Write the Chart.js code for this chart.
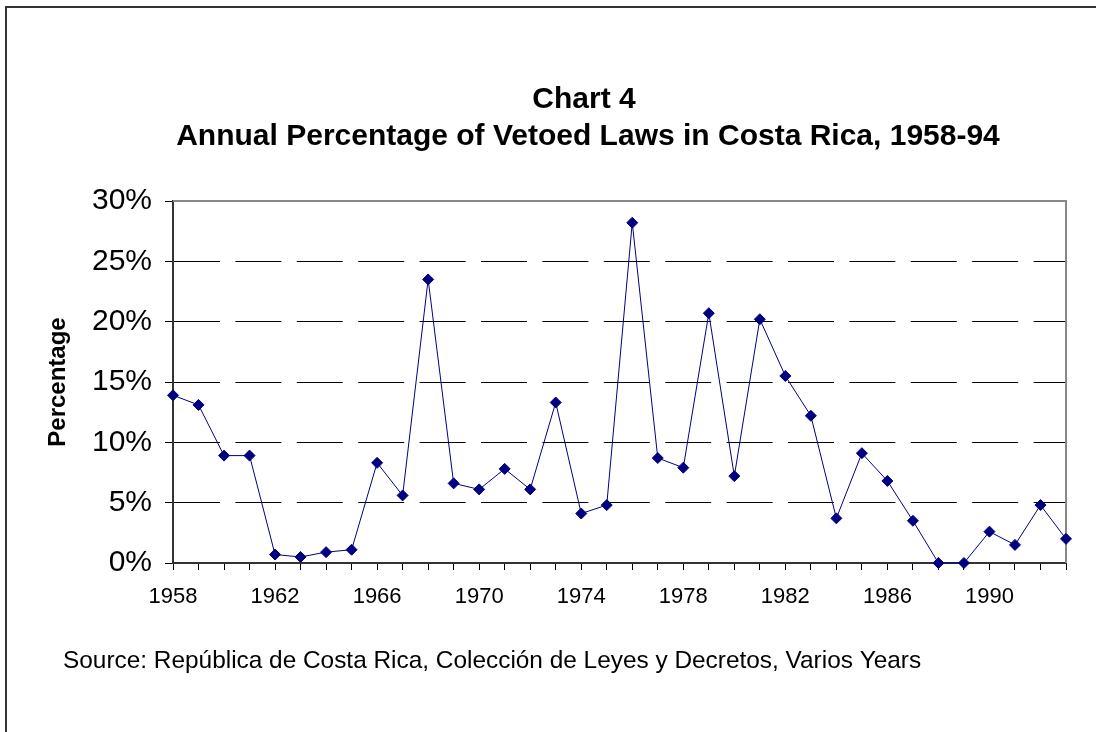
<!DOCTYPE html>
<html>
<head>
<meta charset="utf-8">
<title>Chart 4</title>
<script src="https://cdn.jsdelivr.net/npm/chart.js@4"></script>
<style>
    html, body { margin: 0; padding: 0; background: #fff; }
    #moldura { position: relative; width: 1096px; height: 732px; overflow: hidden; }
    #borda {
        position: absolute; left: 5px; top: 6px; width: 1200px; height: 800px;
        border-top: 2px solid #333; border-left: 2px solid #333;
    }
    #grafico { position: absolute; left: 0; top: 0; }
</style>
</head>
<body>
<div id="moldura">
    <div id="borda"></div>
    <canvas id="grafico" width="1096" height="732"></canvas>
</div>
<script>
const years = [
    '1958', '1959', '1960', '1961', '1962', '1963', '1964', '1965', '1966',
    '1967', '1968', '1969', '1970', '1971', '1972', '1973', '1974', '1975',
    '1976', '1977', '1978', '1979', '1980', '1981', '1982', '1983', '1984',
    '1985', '1986', '1987', '1988', '1989', '1990', '1991', '1992', '1993',
];

// percentage of vetoed laws per year
const vetoedPct = [
    13.9, 13.1, 8.9, 8.9, 0.7, 0.5, 0.9, 1.1, 8.3,
    5.6, 23.5, 6.6, 6.1, 7.8, 6.1, 13.3, 4.1, 4.8,
    28.2, 8.7, 7.9, 20.7, 7.2, 20.2, 15.5, 12.2, 3.7,
    9.1, 6.8, 3.5, 0, 0, 2.6, 1.5, 4.8, 2.0,
];

const labeledYears = ['1958', '1962', '1966', '1970', '1974', '1978', '1982', '1986', '1990'];

const titleLines = ['Chart 4', 'Annual Percentage of Vetoed Laws in Costa Rica, 1958-94'];
const sourceNote = 'Source: República de Costa Rica, Colección de Leyes y Decretos, Varios Years';

const FONT = '"Liberation Sans", Arial, sans-serif';
const NAVY = '#000080';

// title, source line and grey plot frame (top/right)
const extras = {
    id: 'extras',
    beforeDatasetsDraw(chart) {
        const { ctx, chartArea } = chart;
        ctx.save();
        ctx.strokeStyle = '#888';
        ctx.lineWidth = 2;
        ctx.beginPath();
        ctx.moveTo(chartArea.left, chartArea.top);
        ctx.lineTo(chartArea.right, chartArea.top);
        ctx.lineTo(chartArea.right, chartArea.bottom);
        ctx.stroke();
        ctx.restore();
    },
    afterDraw(chart) {
        const { ctx } = chart;
        ctx.save();
        ctx.fillStyle = '#000';
        ctx.textAlign = 'center';
        ctx.textBaseline = 'middle';
        ctx.font = `bold 30px ${FONT}`;
        ctx.fillText(titleLines[0], 584, 100);
        ctx.fillText(titleLines[1], 588, 137);
        ctx.textAlign = 'left';
        ctx.font = `24.4px ${FONT}`;
        ctx.fillText(sourceNote, 63, 661);
        ctx.restore();
    },
};

new Chart(document.getElementById('grafico'), {
    type: 'line',
    data: {
        labels: years,
        datasets: [{
            data: vetoedPct,
            borderColor: NAVY,
            borderWidth: 1,
            backgroundColor: NAVY,
            pointStyle: 'rectRot',
            pointRadius: 5.5,
            pointBackgroundColor: NAVY,
            pointBorderColor: NAVY,
            pointBorderWidth: 1,
            tension: 0,
            fill: false,
            clip: false,
        }],
    },
    options: {
        responsive: false,
        devicePixelRatio: 1,
        animation: false,
        layout: { padding: { left: 0, right: 30, top: 201, bottom: 0 } },
        plugins: {
            legend: { display: false },
            tooltip: { enabled: false },
        },
        scales: {
            x: {
                offset: false,
                afterFit(scale) { scale.height = 169; },
                grid: {
                    drawOnChartArea: false,
                    drawTicks: true,
                    tickLength: 7,
                    tickColor: '#000',
                    tickWidth: 1,
                },
                border: { color: '#333', width: 2 },
                ticks: {
                    autoSkip: false,
                    maxRotation: 0,
                    padding: 14,
                    color: '#000',
                    font: { family: FONT, size: 22 },
                    callback(value, index) {
                        const year = years[index];
                        return labeledYears.includes(year) ? year : '';
                    },
                },
            },
            y: {
                min: 0,
                max: 30,
                afterFit(scale) { scale.width = 173; },
                grid: {
                    color: '#000',
                    lineWidth: 1,
                    tickLength: 8,
                    tickColor: '#000',
                    tickBorderDash: [],
                },
                border: { color: '#333', width: 2, dash: [46, 15.4] },
                ticks: {
                    stepSize: 5,
                    padding: 13,
                    color: '#000',
                    font: { family: FONT, size: 30 },
                    callback: (value) => `${value}%`,
                },
                title: {
                    display: true,
                    text: 'Percentage',
                    color: '#000',
                    font: { family: FONT, size: 24, weight: 'bold' },
                    padding: { top: 44, bottom: 0 },
                },
            },
        },
    },
    plugins: [extras],
});
</script>
</body>
</html>
